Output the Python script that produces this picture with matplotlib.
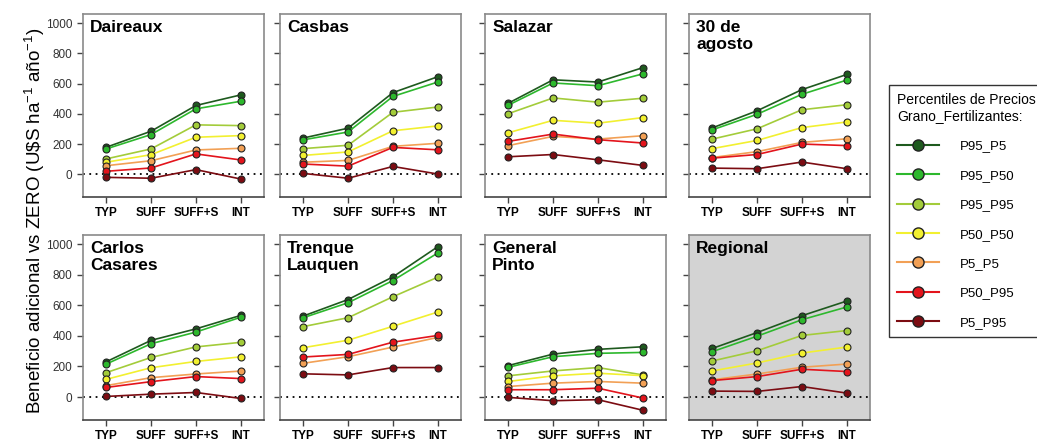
import matplotlib
matplotlib.use("Agg")
import matplotlib.pyplot as plt
from matplotlib.lines import Line2D

plt.rcParams['font.family'] = ['Liberation Sans', 'DejaVu Sans']
plt.rcParams['mathtext.fontset'] = 'custom'
plt.rcParams['mathtext.rm'] = 'Liberation Sans'
plt.rcParams['mathtext.it'] = 'Liberation Sans:italic'

# ----------------------------------------
# Data: additional benefit (U$S/ha/yr) per site, scenario and price percentile
# ----------------------------------------
escenarios = ["TYP", "SUFF", "SUFF+S", "INT"]

series = ["P95_P5", "P95_P50", "P95_P95", "P50_P50", "P5_P5", "P50_P95", "P5_P95"]
colores = ["#1e5a1e", "#2db82d", "#a3cc3a", "#f2f030", "#f2a055", "#e3141c", "#7c0c12"]

sitios = ["Daireaux", "Casbas", "Salazar", "30 de\nagosto",
          "Carlos\nCasares", "Trenque\nLauquen", "General\nPinto", "Regional"]

daireaux = [[179, 285, 455, 525], [168, 263, 433, 483], [102, 168, 327, 322],
            [80, 130, 245, 256], [57, 90, 161, 172], [20, 42, 135, 95],
            [-20, -26, 31, -31]]
casbas = [[240, 305, 540, 645], [228, 280, 515, 610], [170, 192, 410, 445],
          [125, 148, 288, 320], [80, 92, 185, 205], [68, 54, 178, 162],
          [6, -26, 52, 2]]
salazar = [[470, 625, 610, 705], [457, 604, 586, 664], [401, 505, 477, 503],
           [275, 357, 338, 375], [190, 251, 233, 255], [218, 266, 229, 207],
           [116, 131, 96, 59]]
agosto = [[307, 420, 560, 660], [294, 397, 529, 623], [233, 301, 427, 460],
          [170, 224, 309, 346], [111, 150, 211, 235], [107, 131, 200, 190],
          [41, 37, 81, 37]]
casares = [[231, 371, 446, 534], [216, 349, 425, 522], [160, 259, 328, 358],
           [116, 192, 233, 263], [75, 127, 151, 170], [63, 101, 134, 121],
           [4, 19, 30, -9]]
trenque = [[530, 638, 786, 983], [519, 617, 762, 942], [461, 519, 656, 784],
           [323, 372, 463, 556], [221, 264, 327, 390], [262, 279, 359, 403],
           [152, 145, 193, 193]]
pinto = [[206, 281, 312, 329], [195, 264, 286, 292], [139, 171, 193, 145],
         [102, 139, 156, 140], [69, 91, 102, 91], [48, 48, 58, -6],
         [-2, -24, -17, -86]]
regional = [[318, 422, 532, 628], [297, 398, 506, 589], [236, 303, 403, 435],
            [171, 223, 288, 327], [113, 151, 195, 216], [108, 134, 182, 167],
            [39, 37, 69, 26]]

datos = [daireaux, casbas, salazar, agosto, casares, trenque, pinto, regional]

# ----------------------------------------
# Figure layout
# ----------------------------------------
W, H = 1037, 442
fig = plt.figure(figsize=(W / 100, H / 100), dpi=100)

col_left = [83, 280, 485, 689]
panel_w = 181
row_top = [14, 235]
panel_h = [183, 185]

x = list(range(len(escenarios)))

for i, (sitio, valores) in enumerate(zip(sitios, datos)):
    fila, col = divmod(i, 4)
    ax = fig.add_axes([col_left[col] / W, 1 - (row_top[fila] + panel_h[fila]) / H,
                       panel_w / W, panel_h[fila] / H])

    if sitio == "Regional":
        ax.set_facecolor("#d3d3d3")

    ax.axhline(0, color="black", linestyle=(0, (1, 2.5)), linewidth=1.3, zorder=1)

    for vals, c in zip(valores, colores):
        ax.plot(x, vals, color=c, linewidth=1.2, marker="o", markersize=5,
                markerfacecolor=c, markeredgecolor="#222222", markeredgewidth=0.8,
                zorder=3)

    ax.set_xlim(-0.52, 3.52)
    ax.set_ylim(-150, 1060)
    ax.set_yticks([0, 200, 400, 600, 800, 1000])
    ax.set_xticks(x)
    ax.set_xticklabels(escenarios, fontweight="bold", fontsize=8.5)
    ax.tick_params(axis="both", direction="out", length=4, width=1, color="#444444")
    ax.tick_params(axis="y", labelsize=8.5, labelcolor="#333333")
    if col != 0:
        ax.set_yticklabels([])

    for s in ax.spines.values():
        s.set_color("#8a8a8a")
        s.set_linewidth(1.2)
    ax.spines["bottom"].set_color("#444444")

    ax.text(0.04, 0.965, sitio, transform=ax.transAxes, ha="left", va="top",
            fontsize=12.5, fontweight="bold", linespacing=1.15)

# ----------------------------------------
# Shared y label and legend
# ----------------------------------------
fig.text(0.034, 0.5, "Beneficio adicional vs ZERO (U\\$S ha$^{-1}$ año$^{-1}$)",
         rotation=90, ha="center", va="center", fontsize=13.5)

handles = [Line2D([0], [0], color=c, linewidth=1.5, marker="o", markersize=8,
                  markerfacecolor=c, markeredgecolor="#222222", markeredgewidth=1)
           for c in colores]
leg = fig.legend(handles, series, loc="upper left",
                 bbox_to_anchor=(889 / W, 1 - 85 / H), borderaxespad=0,
                 title="Percentiles de Precios\nGrano_Fertilizantes:",
                 fontsize=9.5, title_fontsize=10, frameon=True, fancybox=False,
                 edgecolor="black", handlelength=3.2, handletextpad=1.6,
                 labelspacing=1.3, borderpad=0.6, alignment="left")
leg.get_frame().set_linewidth(1.0)

fig.savefig("out.png", dpi=100)
